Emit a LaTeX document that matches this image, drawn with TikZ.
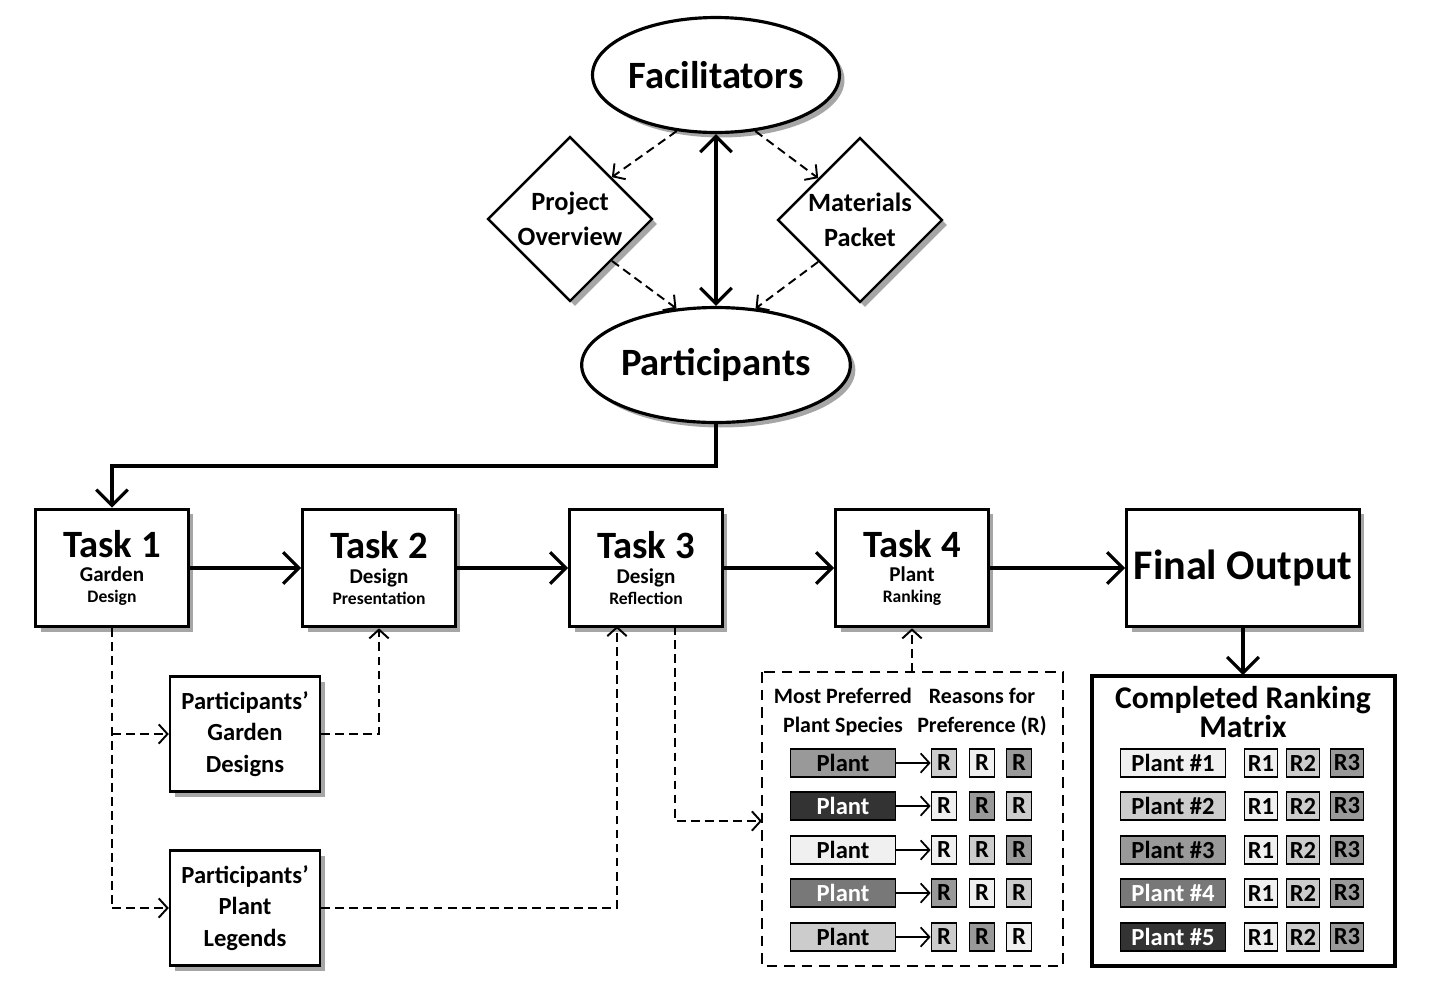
\documentclass[tikz,border=0pt]{standalone}
\usepackage{fontspec}
\setmainfont{Carlito}
\usetikzlibrary{shapes.geometric,shadows,arrows.meta}
\tikzset{
  shd/.style={drop shadow={shadow xshift=0.1cm,shadow yshift=-0.1cm,fill=black!35,opacity=1}},
  oval/.style={ellipse,draw,line width=1.8pt,fill=white,shd,inner sep=0pt,minimum width=4.5cm,minimum height=2.3cm,font=\bfseries\fontsize{22}{24}\selectfont},
  dia/.style={diamond,draw,line width=1.4pt,fill=white,shd,minimum width=3.3cm,minimum height=3.3cm,inner sep=0pt,align=center,font=\bfseries\fontsize{15}{20}\selectfont},
  task/.style={draw,line width=1.8pt,fill=white,shd,minimum width=3.05cm,minimum height=2.35cm,align=center,font=\bfseries},
  pbox/.style={draw,line width=1.4pt,fill=white,shd,minimum width=3.0cm,minimum height=2.3cm,align=center,font=\bfseries\fontsize{14}{18}\selectfont},
  plant/.style={draw,line width=1pt,minimum width=2.1cm,minimum height=0.56cm,inner sep=0pt,font=\bfseries\fontsize{14}{14}\selectfont},
  rbox/.style={draw,line width=1pt,minimum width=0.5cm,minimum height=0.56cm,inner sep=0pt,font=\bfseries\fontsize{14}{14}\selectfont},
  rrbox/.style={draw,line width=1pt,minimum width=0.66cm,minimum height=0.56cm,inner sep=0pt,font=\bfseries\fontsize{14}{14}\selectfont},
  flow/.style={line width=1.8pt,-{Straight Barb[length=9pt,width=18pt]}},
  dflow/.style={dash pattern=on 5pt off 3pt,line width=1.1pt,-{Straight Barb[length=5pt,width=11pt]}},
}
\newcommand{\tasktext}[2]{\fontsize{22}{26}\selectfont #1\\[2pt]\fontsize{12}{16}\selectfont #2}
\definecolor{gA}{gray}{0.94}
\definecolor{gB}{gray}{0.8}
\definecolor{gC}{gray}{0.6}
\definecolor{gD}{gray}{0.47}
\definecolor{gE}{gray}{0.2}
\begin{document}
\begin{tikzpicture}[x=0.02cm,y=-0.02cm]
\useasboundingbox (0,0) rectangle (1431,992);

% Top cluster
\node[oval] (fac) at (716,75) {Facilitators};
\node[oval] (par) at (716,365) {Participants};
\node[dia] (proj) at (570,219) {Project\\Overview};
\node[dia] (mat) at (860,220) {Materials\\Packet};
\draw[line width=1.8pt,{Straight Barb[length=9pt,width=18pt]}-{Straight Barb[length=9pt,width=18pt]}] (fac) -- (par);
\draw[dflow] (fac.-125) -- (proj.north east);
\draw[dflow] (proj.south east) -- (par.125);
\draw[dflow] (fac.-55) -- (mat.north west);
\draw[dflow] (mat.south west) -- (par.55);

% Tasks
\node[task] (t1) at (112,568) {\tasktext{Task 1}{Garden\\Design}};
\node[task] (t2) at (379,568) {\tasktext{Task 2}{Design\\Presentation}};
\node[task] (t3) at (646,568) {\tasktext{Task 3}{Design\\Reflection}};
\node[task] (t4) at (912,568) {\tasktext{Task 4}{Plant\\Ranking}};
\node[task,minimum width=4.65cm,font=\bfseries\fontsize{24}{26}\selectfont] (out) at (1243,568) {Final Output};
\draw[flow] (par.south) |- (411,466) -| (t1.north);
\draw[flow] (t1) -- (t2);
\draw[flow] (t2) -- (t3);
\draw[flow] (t3) -- (t4);
\draw[flow] (t4) -- (out);

% Participant outputs
\node[pbox] (gd) at (245,734) {Participants'\\Garden\\Designs};
\node[pbox] (pl) at (245,908) {Participants'\\Plant\\Legends};
\draw[dash pattern=on 5pt off 3pt,line width=1.1pt] (t1.south) -- (112,908);
\draw[dflow] (112,734) -- (gd.west);
\draw[dflow] (112,908) -- (pl.west);
\draw[dflow] (gd.east) -| (t2.south);
\draw[dflow] (pl.east) -| (617,626);

% Ranking sheet
\draw[dash pattern=on 6pt off 4pt,line width=1.1pt] (762,672) rectangle (1063,966);
\coordinate (sheet) at (912,672);
\draw[dflow] (sheet) -- (t4.south);
\draw[dflow] (675,626) |- (762,821);
\node[font=\bfseries\fontsize{12.5}{17}\selectfont,align=center] (hd1) at (843,712) {Most Preferred\\Plant Species};
\node[font=\bfseries\fontsize{12.5}{17}\selectfont,align=center] (hd2) at (982,712) {Reasons for\\Preference (R)};
\foreach \y/\pc/\tc/\ra/\rb/\rc [count=\i] in {763/gC/black/gB/gA/gC, 806/gE/white/gA/gC/gB, 850/gA/black/gA/gB/gC, 893/gD/white/gC/gA/gB, 937/gB/black/gB/gC/gA}{
  \node[plant,fill=\pc,text=\tc] (p\i) at (843,\y) {Plant};
  \node[rbox,fill=\ra] (ra\i) at (944,\y) {R};
  \node[rbox,fill=\rb] (rb\i) at (982,\y) {R};
  \node[rbox,fill=\rc] (rc\i) at (1019,\y) {R};
  \draw[line width=1pt,-{Straight Barb[length=5pt,width=11pt]}] (p\i) -- (ra\i);
}

% Completed matrix
\draw[flow] (out.south) -- (1243,675);
\draw[line width=2.6pt,fill=white] (1092,676) rectangle (1395,966);
\node[font=\bfseries\fontsize{18}{16}\selectfont,align=center] (mtitle) at (1243,712) {Completed Ranking\\Matrix};
\foreach \y/\pc/\tc [count=\i] in {763/gA/black, 806/gB/black, 850/gC/black, 893/gD/white, 937/gE/white}{
  \node[plant,fill=\pc,text=\tc] (q\i) at (1173,\y) {Plant \#\i};
  \node[rrbox,fill=gA] (ma\i) at (1261,\y) {R1};
  \node[rrbox,fill=gB] (mb\i) at (1303,\y) {R2};
  \node[rrbox,fill=gC] (mc\i) at (1347,\y) {R3};
}
\end{tikzpicture}
\end{document}
